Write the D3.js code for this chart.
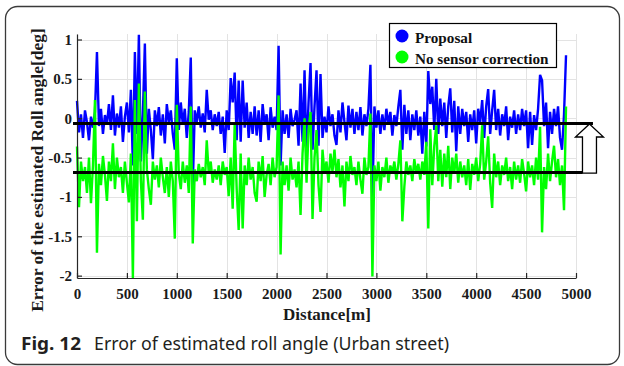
<!DOCTYPE html>
<html>
<head>
<meta charset="utf-8">
<script src="https://cdn.jsdelivr.net/npm/d3@7"></script>
<style>
  body { margin: 0; background: #fff; }
  svg { display: block; }
</style>
</head>
<body>
<div id="chart"></div>
<script>
// sample spacing along the route [m]
const step = 20;

// roll angle error [deg], Proposal (blue)
const proposal = [
  0.22, -0.18, 0.05, -0.25, 0.10, -0.05, -0.28, 0.02, -0.12, 0.08,
  0.84, -0.10, 0.12, -0.20, 0.04, -0.08, 0.18, -0.15, 0.29, -0.22,
  0.06, -0.12, 0.15, -0.30, 0.02, 0.20, -0.18, 0.36, -0.60, 0.84,
  -0.20, 1.06, -0.55, 0.05, 0.95, -0.45, 0.12, -0.15, -0.52, 0.10,
  -0.10, 0.14, -0.22, 0.05, -0.32, 0.18, -0.05, 0.10, -0.20, -0.40,
  0.76, -0.15, 0.20, -0.08, 0.12, -0.25, 0.08, 0.77, -0.87, 0.10,
  -0.05, 0.15, -0.12, 0.06, -0.18, 0.36, -0.02, 0.10, -0.15, 0.05,
  -0.10, 0.08, -0.20, 0.02, -0.44, 0.10, -0.15, 0.51, 0.20, 0.58,
  -0.28, 0.48, -0.30, 0.48, -0.12, 0.20, -0.25, 0.08, -0.20, 0.15,
  -0.22, 0.10, -0.30, 0.18, -0.08, 0.05, -0.28, 0.14, -0.12, 0.02,
  -0.15, 0.92, -0.60, 0.10, -0.20, 0.05, -0.25, 0.12, -0.10, -0.02,
  0.10, -0.35, 0.44, -0.30, 0.61, -0.45, 0.20, 0.70, -0.40, 0.15,
  0.61, -0.35, 0.56, -0.25, 0.02, -0.18, 0.15, -0.10, 0.05, -0.22,
  -0.34, 0.10, -0.18, 0.20, -0.05, -0.28, 0.16, -0.12, 0.12, -0.20,
  0.08, -0.15, 0.14, -0.22, 0.05, -0.10, 0.12, 0.68, -1.04, 0.15,
  -0.12, 0.10, -0.20, 0.05, -0.15, 0.12, -0.08, 0.08, -0.22, 0.04,
  -0.10, 0.15, 0.36, -0.40, 0.17, -0.20, 0.10, -0.28, 0.05, -0.15,
  0.10, -0.22, 0.02, -0.45, 0.08, -0.36, 0.60, 0.18, 0.40, -0.15,
  0.50, -0.20, 0.25, -0.10, 0.20, -0.25, 0.15, 0.38, -0.18, 0.22,
  -0.42, 0.15, -0.20, 0.12, -0.10, 0.08, -0.30, 0.05, -0.15, 0.10,
  -0.32, 0.12, -0.05, 0.23, -0.25, 0.15, 0.37, -0.20, 0.10, 0.36,
  -0.15, 0.12, -0.22, 0.05, -0.10, 0.15, -0.28, 0.02, -0.12, 0.10,
  -0.20, 0.05, -0.15, 0.12, -0.10, 0.10, -0.38, 0.08, -0.34, 0.04,
  -0.15, 0.12, 0.55, 0.48, -0.10, 0.20, -0.38, 0.08, -0.20, 0.12,
  -0.10, 0.15, -0.25, -0.40, 0.05, 0.80
];

// roll angle error [deg], No sensor correction (green)
const noCorrection = [
  -0.36, -1.13, -0.55, -0.80, -0.62, -0.95, -0.50, -1.08, -0.60, 0.23,
  -1.71, -0.58, -0.85, -0.48, -0.72, -1.05, -0.55, -0.80, -0.32, -0.90,
  -0.50, -0.75, -0.62, -0.95, -0.55, -0.82, -1.07, -0.45, -2.03, 0.23,
  -1.31, 0.44, -0.80, -1.29, 0.34, -0.65, -0.90, -1.10, -0.55, -0.78,
  -0.60, -0.88, -0.50, -0.75, -0.95, -0.62, -1.00, -0.55, -0.80, -1.53,
  0.17, -0.70, -0.90, -0.55, -0.82, -0.60, -0.95, 0.15, -1.59, -0.65,
  -0.80, -0.58, -0.75, -0.62, -0.85, -0.28, -0.70, -0.55, -0.82, -0.65,
  -0.78, -0.60, -0.85, -0.55, -0.72, -0.62, -0.99, -0.50, -1.15, -0.07,
  -0.90, -1.42, -0.45, -1.40, -0.60, -0.85, -0.50, -0.78, -0.62, -0.95,
  -1.06, -0.55, -0.80, -0.48, -1.00, -0.72, -0.58, -0.85, -0.50, -0.75,
  -0.62, 0.29, -1.73, -0.55, -0.85, -0.60, -0.92, -0.50, -0.78, -0.65,
  -0.88, -0.55, -1.23, -0.45, 0.00, -0.82, -0.15, 0.08, -1.28, -0.50,
  -0.15, -0.85, -1.19, -0.40, -0.70, -0.55, -0.82, -0.45, -0.68, -0.40,
  -0.75, -0.52, -0.88, -0.60, -1.12, -0.55, -0.80, -0.48, -0.72, -0.62,
  -0.85, -0.55, -0.78, -0.96, -0.50, -0.72, -0.62, 0.06, -2.01, -0.60,
  -0.80, -0.55, -0.92, -0.62, -0.75, -0.50, -0.82, -0.60, -0.70, -0.55,
  -0.78, -0.58, -0.28, -1.31, -0.87, -0.55, -0.72, -0.60, -0.80, -0.52,
  -0.70, -0.58, -0.78, -0.55, -0.72, -0.30, -1.40, -0.14, -0.85, -0.35,
  -0.09, -0.80, -0.40, -0.87, -0.45, -0.75, -0.35, -0.90, -0.50, -0.70,
  -0.45, -0.82, -0.55, -0.75, -0.60, -0.85, -0.52, -0.91, -0.58, -0.72,
  -0.50, -0.80, -0.58, -0.09, -0.78, -0.55, -0.23, -0.82, -1.14, -0.45,
  -0.75, -0.55, -0.85, -0.60, -0.72, -0.50, -0.80, -0.62, -0.90, -0.55,
  -0.78, -0.60, -0.82, -0.52, -0.70, -0.93, -0.55, -0.75, -0.60, -0.85,
  -0.50, -0.78, -0.11, -1.45, -0.62, -0.90, -0.45, -0.80, -0.55, -0.35,
  -0.75, -0.52, -0.85, -0.60, -1.17, 0.15
];

const xTicks = [0, 500, 1000, 1500, 2000, 2500, 3000, 3500, 4000, 4500, 5000];
const yTicks = [-2, -1.5, -1, -0.5, 0, 0.5, 1];
const legendNames = ["Proposal", "No sensor correction"];
const seriesColors = ["#0000ff", "#00ff00"];
// the two thick reference levels and the arrow between them
const refLevels = [-0.067, -0.69];

const width = 624, height = 366;
const serif = "'Liberation Serif', 'Times New Roman', serif";
const sans = "'Noto Sans', 'Open Sans', sans-serif";

const svg = d3.select("#chart").append("svg")
  .attr("width", width)
  .attr("height", height);

// outer rounded frame
svg.append("rect")
  .attr("x", 5.5).attr("y", 6.5)
  .attr("width", 614).attr("height", 358)
  .attr("rx", 12).attr("ry", 12)
  .attr("fill", "none")
  .attr("stroke", "#3a3a3a")
  .attr("stroke-width", 1.3);

const x = d3.scaleLinear().domain([0, 5000]).range([77, 576]);
const y = d3.scaleLinear().domain([-2.03, 1.07]).range([278, 34]);

// grid
const grid = svg.append("g").attr("stroke", "#e3e3e3").attr("stroke-width", 1);
grid.selectAll("line.v").data(xTicks).enter().append("line")
  .attr("x1", d => Math.round(x(d)) + 0.5).attr("x2", d => Math.round(x(d)) + 0.5)
  .attr("y1", y.range()[0]).attr("y2", y.range()[1]);
grid.selectAll("line.h").data(yTicks).enter().append("line")
  .attr("x1", x.range()[0]).attr("x2", x.range()[1])
  .attr("y1", d => Math.round(y(d)) + 0.5).attr("y2", d => Math.round(y(d)) + 0.5);

// series
const line = d3.line()
  .x((d, i) => x(i * step))
  .y(d => y(d));

[proposal, noCorrection].forEach((s, k) => {
  svg.append("path")
    .datum(s)
    .attr("d", line)
    .attr("fill", "none")
    .attr("stroke", seriesColors[k])
    .attr("stroke-width", 2.4)
    .attr("stroke-linejoin", "bevel");
});

// axes
const yAxis = svg.append("g")
  .attr("transform", "translate(" + x.range()[0] + ",0)")
  .call(d3.axisLeft(y).tickValues(yTicks).tickSize(-5).tickSizeOuter(0).tickPadding(5)
    .tickFormat(d => String(d)));
const xAxis = svg.append("g")
  .attr("transform", "translate(0," + y.range()[0] + ")")
  .call(d3.axisBottom(x).tickValues(xTicks).tickSize(-5).tickSizeOuter(0).tickPadding(10)
    .tickFormat(d => String(d)));

[yAxis, xAxis].forEach(a => {
  a.select(".domain").attr("stroke", "#262626").attr("stroke-width", 1.2);
  a.selectAll(".tick line").attr("stroke", "#262626").attr("stroke-width", 1.2);
  a.selectAll(".tick text")
    .attr("fill", "#1a1a1a")
    .style("font-family", serif)
    .style("font-weight", "bold")
    .style("font-size", "15px");
});

// reference levels
svg.selectAll("line.ref").data(refLevels).enter().append("line")
  .attr("x1", x(-40))
  .attr("x2", (d, i) => i === 0 ? x(5170) : x(5065))
  .attr("y1", d => y(d)).attr("y2", d => y(d))
  .attr("stroke", "#000")
  .attr("stroke-width", 3);

// hollow arrow from lower to upper level
const ax = x(5135), tipY = y(refLevels[0]) + 0.5, baseY = y(refLevels[1]) + 0.5;
const headY = tipY + 13;
svg.append("path")
  .attr("d", "M" + ax + "," + tipY +
    " L" + (ax + 14) + "," + headY +
    " L" + (ax + 7) + "," + headY +
    " L" + (ax + 7) + "," + baseY +
    " L" + (ax - 7) + "," + baseY +
    " L" + (ax - 7) + "," + headY +
    " L" + (ax - 14) + "," + headY + " Z")
  .attr("fill", "#fff")
  .attr("stroke", "#000")
  .attr("stroke-width", 1.3);

// legend
const legend = svg.append("g");
legend.append("rect")
  .attr("x", 389.5).attr("y", 23.5)
  .attr("width", 167).attr("height", 44)
  .attr("fill", "#fff")
  .attr("stroke", "#000")
  .attr("stroke-width", 1.2);
legendNames.forEach((name, i) => {
  legend.append("circle")
    .attr("cx", 402).attr("cy", 36 + i * 21)
    .attr("r", 6.5)
    .attr("fill", seriesColors[i]);
  legend.append("text")
    .attr("x", 415).attr("y", 43 + i * 20.5)
    .style("font-family", serif)
    .style("font-weight", "bold")
    .style("font-size", "15.2px")
    .attr("fill", "#111")
    .text(name);
});

// axis titles
svg.append("text")
  .attr("x", 327).attr("y", 320)
  .attr("text-anchor", "middle")
  .style("font-family", serif)
  .style("font-weight", "bold")
  .style("font-size", "17px")
  .attr("fill", "#1a1a1a")
  .text("Distance[m]");

svg.append("text")
  .attr("transform", "translate(43,170) rotate(-90)")
  .attr("text-anchor", "middle")
  .style("font-family", serif)
  .style("font-weight", "bold")
  .style("font-size", "17.5px")
  .attr("fill", "#1a1a1a")
  .text("Error of the estimated Roll angle[deg]");

// caption
svg.append("text")
  .attr("x", 21).attr("y", 350)
  .style("font-family", sans)
  .style("font-weight", "bold")
  .style("font-size", "18.5px")
  .attr("fill", "#231f20")
  .attr("textLength", 60)
  .attr("lengthAdjust", "spacingAndGlyphs")
  .text("Fig. 12");
svg.append("text")
  .attr("x", 94).attr("y", 350)
  .style("font-family", sans)
  .style("font-size", "18.5px")
  .attr("fill", "#231f20")
  .attr("textLength", 355)
  .attr("lengthAdjust", "spacingAndGlyphs")
  .text("Error of estimated roll angle (Urban street)");
</script>
</body>
</html>
